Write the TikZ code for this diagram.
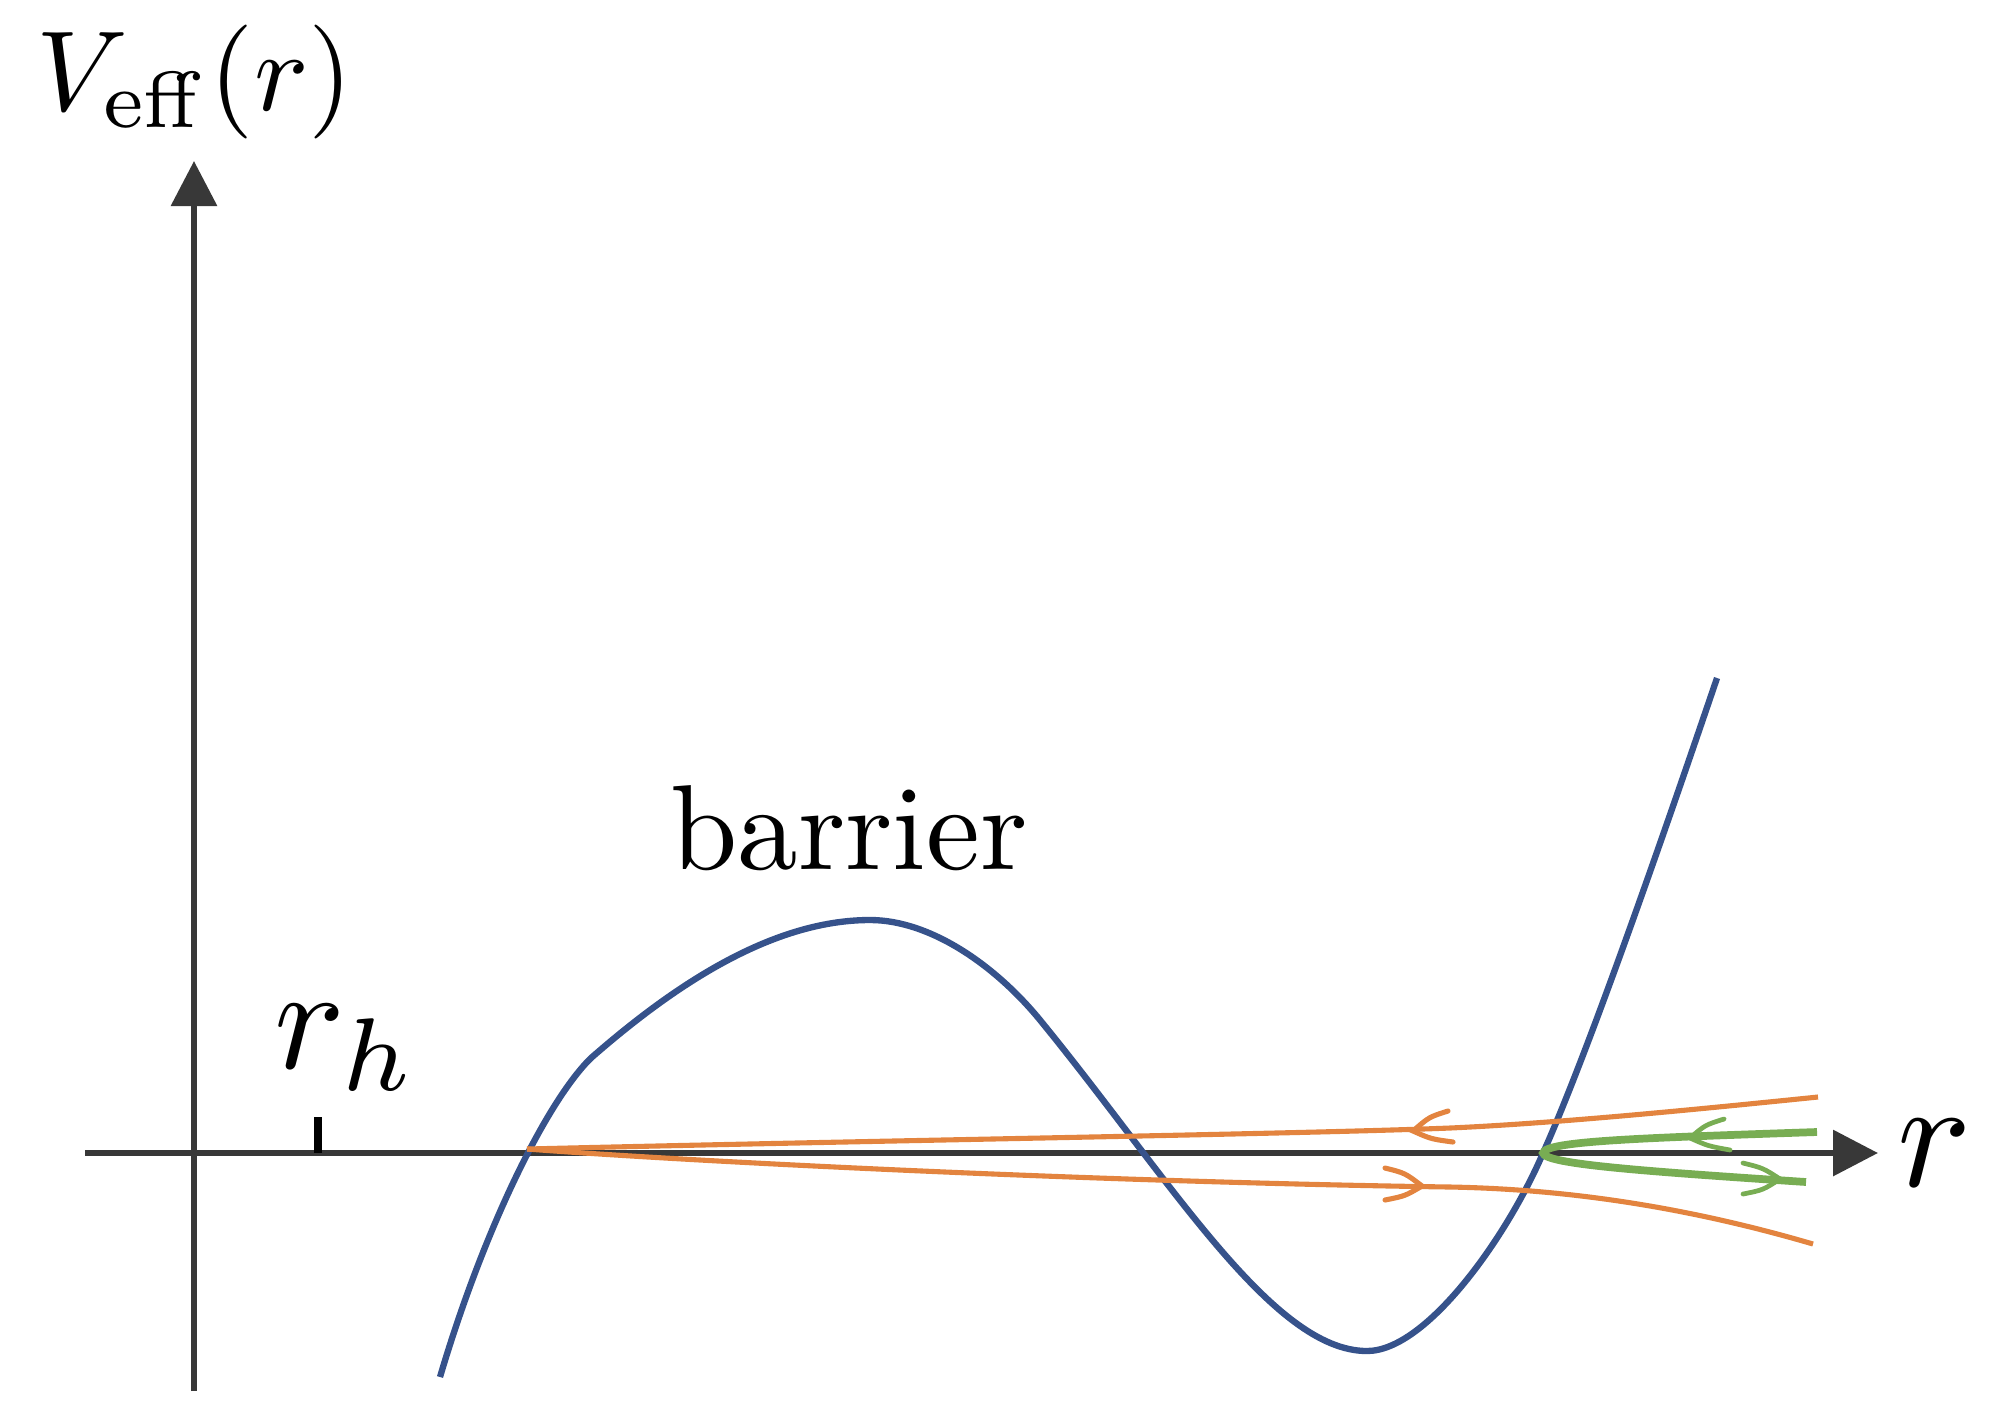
\documentclass[tikz,border=0pt]{standalone}
\usetikzlibrary{arrows.meta}
\definecolor{axisgray}{HTML}{383838}
\definecolor{curveblue}{HTML}{36528B}
\definecolor{flowor}{HTML}{E3843F}
\definecolor{flowgr}{HTML}{78AD53}
\begin{document}
\begin{tikzpicture}[x=0.01cm,y=-0.01cm,
  axisline/.style={draw=axisgray,line width=1.8pt,-{Triangle[length=0.45cm,width=0.45cm]}},
  potential/.style={draw=curveblue,line width=1.8pt},
  orflow/.style={draw=flowor,line width=1.45pt},
  grflow/.style={draw=flowgr,line width=2.2pt},
  ormark/.style={draw=flowor,line width=1.45pt,line cap=round},
  grmark/.style={draw=flowgr,line width=1.35pt,line cap=round},
  lbl/.style={inner sep=0pt,text=black,font=\fontsize{10}{12}\selectfont}]
\useasboundingbox (0,0) rectangle (1992,1406);
% axes
\coordinate (xs) at (85,1153);
\coordinate (xe) at (1878,1153);
\coordinate (ys) at (194,1391);
\coordinate (ye) at (194,161);
\draw[axisline] (xs) -- (xe);
\draw[axisline] (ys) -- (ye);
% tick at r_h
\coordinate (tk) at (318,1153);
\coordinate (tktop) at (318,1117);
\draw[black,line width=2pt] (tk) -- (tktop);
% labels
\node[lbl,scale=3.24] (vlab) at (195,82) {$V_{\mathrm{eff}}(r)$};
\node[lbl,scale=4.4,anchor=base] (rlab) at (1935,1186) {$r$};
\node[lbl,scale=4.2,anchor=base west] (rhlab) at (272,1068) {$r_h$};
\node[lbl,scale=3.44,anchor=base] (barrier) at (849,869) {barrier};
% potential curve
\coordinate (p0) at (440,1377);
\coordinate (p1) at (591,1058);
\coordinate (pk) at (870,920);
\coordinate (p2) at (1040,1020);
\coordinate (pm) at (1367,1351);
\coordinate (p3) at (1543,1153);
\coordinate (p4) at (1717,678);
\draw[potential] (p0) .. controls (485,1225) and (548,1100) .. (p1)
  .. controls (671,988) and (770,920) .. (pk)
  .. controls (930,920) and (995,965) .. (p2)
  .. controls (1170,1179) and (1272,1351) .. (pm)
  .. controls (1427,1351) and (1508,1235) .. (p3)
  .. controls (1588,1053) and (1667,825) .. (p4);
% orange flows
\coordinate (os) at (527,1149);
\coordinate (ou) at (1450,1128);
\coordinate (oue) at (1818,1097);
\coordinate (ol) at (1450,1187);
\coordinate (ole) at (1813,1244);
\draw[orflow] (os) .. controls (900,1140) and (1300,1134) .. (ou)
  .. controls (1560,1123) and (1700,1109) .. (oue);
\draw[orflow] (os) .. controls (700,1162) and (1100,1182) .. (ol)
  .. controls (1560,1189) and (1680,1205) .. (ole);
% green flow
\coordinate (gs) at (1817,1132);
\coordinate (gn) at (1543,1153);
\coordinate (ge) at (1806,1182);
\draw[grflow] (gs) .. controls (1640,1138) and (1545,1141) .. (gn)
  .. controls (1545,1164) and (1640,1171) .. (ge);
% direction marks
\draw[ormark] (1448,1111) .. controls (1429,1117) .. (1413,1131) .. controls (1431,1139) .. (1453,1142);
\draw[ormark] (1385,1168) .. controls (1405,1173) .. (1422,1186) .. controls (1405,1196) .. (1385,1200);
\draw[grmark] (1724,1119) .. controls (1705,1125) .. (1690,1138) .. controls (1708,1146) .. (1730,1150);
\draw[grmark] (1743,1163) .. controls (1763,1168) .. (1780,1179) .. controls (1763,1190) .. (1743,1194);
\end{tikzpicture}
\end{document}
